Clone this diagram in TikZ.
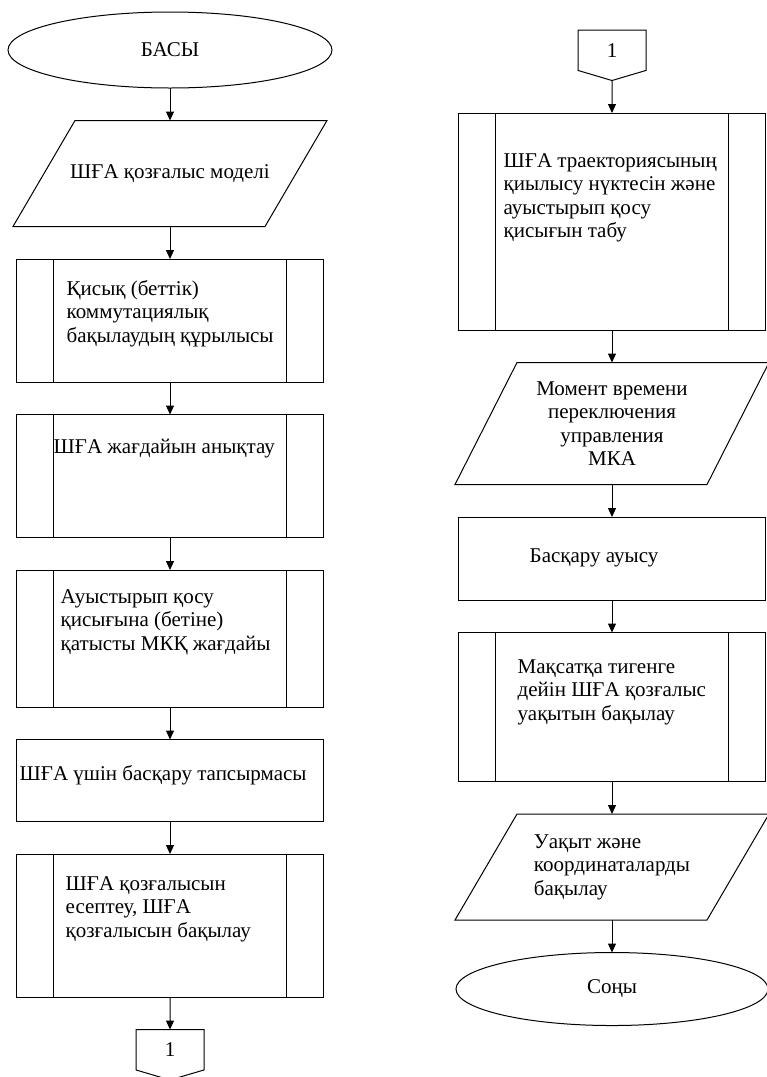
\documentclass[tikz,border=0pt]{standalone}
\usepackage{fontspec}
\setmainfont{Liberation Serif}
\usetikzlibrary{positioning,shapes.geometric,shapes.symbols,arrows.meta}

\begin{document}
\begin{tikzpicture}[
  node distance=32.5pt,
  every node/.style={font=\fontsize{21}{23.5}\selectfont},
  terminal/.style={draw, line width=1pt, ellipse, minimum width=324pt, minimum height=76pt, inner sep=0pt, outer sep=0pt},
  iobox/.style={rectangle, minimum width=314pt, minimum height=106pt, inner sep=0pt, outer sep=0pt, align=center,
    append after command={\pgfextra{\let\ionode\tikzlastnode
      \draw[line width=1pt] ([xshift=62pt]\ionode.north west) -- (\ionode.north east)
        -- ([xshift=-62pt]\ionode.south east) -- (\ionode.south west) -- cycle;}}},
  procbox/.style={draw, line width=1pt, rectangle, minimum width=307pt, inner sep=0pt, outer sep=0pt},
  subbox/.style={procbox, path picture={
      \draw[line width=1pt] ([xshift=37pt]path picture bounding box.north west) -- ([xshift=37pt]path picture bounding box.south west);
      \draw[line width=1pt] ([xshift=-37pt]path picture bounding box.north east) -- ([xshift=-37pt]path picture bounding box.south east);}},
  pagecon/.style={draw, line width=1pt, signal, signal to=south, signal pointer angle=147, minimum width=68pt, minimum height=42pt, inner sep=0pt, outer sep=0pt},
  boxtext/.style={anchor=north west, inner sep=0pt, align=left},
  arrow/.style={-{Triangle[length=9pt,width=8pt]}, line width=1pt}
]
\useasboundingbox (0,0) rectangle (767pt,-1077pt);

% left column
\node[terminal] (basy) at (170pt,-50pt) {БАСЫ};
\node[iobox, below=of basy] (model) {ШҒА қозғалыс моделі};
\node[subbox, minimum height=123pt, below=of model] (sub1) {};
\node[boxtext] (sub1t) at ([shift={(50pt,-21pt)}]sub1.north west) {Қисық (беттік)\\коммутациялық\\бақылаудың құрылысы};
\node[subbox, minimum height=123pt, below=of sub1] (sub2) {};
\node[boxtext] (sub2t) at ([shift={(37pt,-24pt)}]sub2.north west) {ШҒА жағдайын анықтау};
\node[subbox, minimum height=137pt, below=of sub2] (sub3) {};
\node[boxtext] (sub3t) at ([shift={(44pt,-19pt)}]sub3.north west) {Ауыстырып қосу\\қисығына (бетіне)\\қатысты МКҚ жағдайы};
\node[procbox, minimum height=82pt, below=of sub3] (task) {};
\node[boxtext] (taskt) at ([shift={(3pt,-26pt)}]task.north west) {ШҒА үшін басқару тапсырмасы};
\node[subbox, minimum height=143pt, below=of task] (sub4) {};
\node[boxtext] (sub4t) at ([shift={(49pt,-22pt)}]sub4.north west) {ШҒА қозғалысын\\есептеу, ШҒА\\қозғалысын бақылау};
\node[pagecon, below=of sub4] (con1) {1};

% right column
\node[pagecon, anchor=north] (con2) at (612pt,-30pt) {1};
\node[subbox, minimum height=217pt, below=of con2] (sub5) {};
\node[boxtext] (sub5t) at ([shift={(45pt,-40pt)}]sub5.north west) {ШҒА траекториясының\\қиылысу нүктесін және\\ауыстырып қосу\\қисығын табу};
\node[iobox, minimum height=122pt, below=of sub5] (moment) {Момент времени\\переключения\\управления\\МКА};
\node[procbox, minimum height=83pt, below=of moment] (shift) {};
\node[boxtext] (shiftt) at ([shift={(71pt,-32pt)}]shift.north west) {Басқару ауысу};
\node[subbox, minimum height=149pt, below=of shift] (sub6) {};
\node[boxtext] (sub6t) at ([shift={(59pt,-27pt)}]sub6.north west) {Мақсатқа тигенге\\дейін ШҒА қозғалыс\\уақытын бақылау};
\node[iobox, below=of sub6, align=left] (coord) {Уақыт және\\координаталарды\\бақылау};
\node[terminal, minimum width=312pt, minimum height=73pt, below=of coord] (soni) {Соңы};

\draw[arrow] (basy) -- (model);
\draw[arrow] (model) -- (sub1);
\draw[arrow] (sub1) -- (sub2);
\draw[arrow] (sub2) -- (sub3);
\draw[arrow] (sub3) -- (task);
\draw[arrow] (task) -- (sub4);
\draw[arrow] (sub4) -- (con1);

\draw[arrow] (con2) -- (sub5);
\draw[arrow] (sub5) -- (moment);
\draw[arrow] (moment) -- (shift);
\draw[arrow] (shift) -- (sub6);
\draw[arrow] (sub6) -- (coord);
\draw[arrow] (coord) -- (soni);
\end{tikzpicture}
\end{document}
